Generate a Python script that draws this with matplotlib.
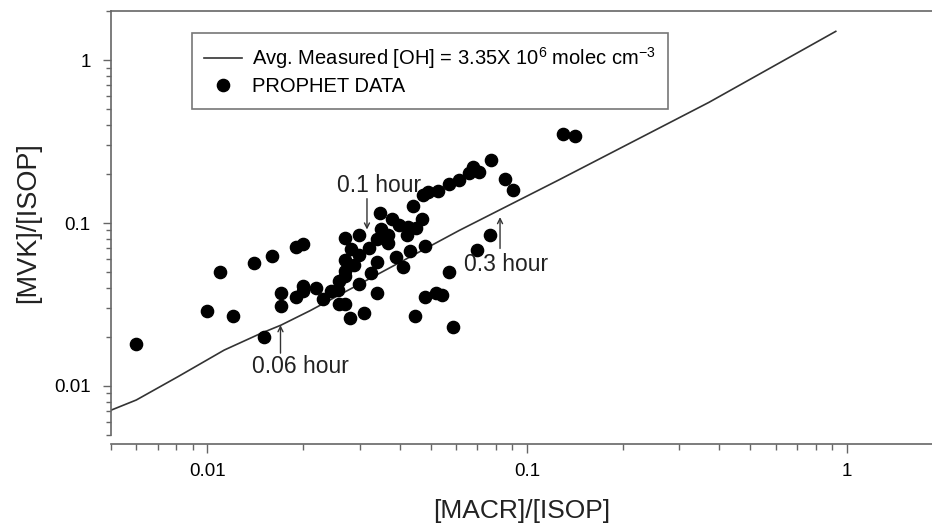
import matplotlib
matplotlib.use("Agg")
import matplotlib.pyplot as plt
from matplotlib import ticker

# PROPHET data
macr_isop = [0.0060, 0.0100, 0.0120, 0.0110, 0.0140, 0.0160, 0.0150, 0.0170, 0.0170, 0.0190,
             0.0200, 0.0190, 0.0200, 0.0199, 0.0219, 0.0230, 0.0244, 0.0256, 0.0259, 0.0269,
             0.0269, 0.0259, 0.0269, 0.0280, 0.0270, 0.0282, 0.0270, 0.0299, 0.0299, 0.0287,
             0.0299, 0.0310, 0.0320, 0.0326, 0.0339, 0.0339, 0.0339, 0.0350, 0.0348, 0.0367,
             0.0379, 0.0369, 0.0390, 0.0399, 0.0411, 0.0424, 0.0421, 0.0431, 0.0439, 0.0450,
             0.0448, 0.0470, 0.0479, 0.0480, 0.0474, 0.0491, 0.0526, 0.0520, 0.0543, 0.0569,
             0.0569, 0.0611, 0.0588, 0.0660, 0.0680, 0.0710, 0.0700, 0.0768, 0.0773, 0.0855,
             0.0906, 0.1300, 0.1410]
mvk_isop = [0.018, 0.029, 0.027, 0.050, 0.057, 0.063, 0.020, 0.037, 0.031, 0.071,
            0.074, 0.035, 0.041, 0.038, 0.040, 0.034, 0.038, 0.039, 0.044, 0.047,
            0.051, 0.032, 0.032, 0.026, 0.059, 0.069, 0.081, 0.085, 0.064, 0.055,
            0.042, 0.028, 0.0705, 0.049, 0.058, 0.037, 0.080, 0.092, 0.115, 0.084,
            0.106, 0.075, 0.062, 0.097, 0.054, 0.094, 0.084, 0.067, 0.128, 0.093,
            0.027, 0.106, 0.072, 0.035, 0.149, 0.156, 0.158, 0.037, 0.036, 0.050,
            0.174, 0.184, 0.023, 0.202, 0.220, 0.205, 0.068, 0.085, 0.242, 0.186,
            0.160, 0.351, 0.341]

# model curve for avg. measured [OH]
model_macr = [0.0050, 0.0060, 0.0081, 0.0113, 0.0147, 0.0170, 0.0210, 0.0614, 0.126, 0.371, 0.925]
model_mvk = [0.0071, 0.0082, 0.0114, 0.0166, 0.0210, 0.0236, 0.0290, 0.0900, 0.184, 0.55, 1.50]

# time markers: label, text anchor, arrow tail, arrow tip
marks = [
    ("0.1 hour", (0.0255, 0.170), (0.0316, 0.141), (0.0316, 0.0912)),
    ("0.06 hour", (0.01385, 0.0131), (0.01695, 0.0159), (0.01695, 0.0236)),
    ("0.3 hour", (0.0637, 0.0557), (0.0824, 0.0698), (0.0824, 0.1087)),
]

plt.rcParams["font.family"] = ["Liberation Sans", "DejaVu Sans"]
plt.rcParams["mathtext.fontset"] = "custom"
plt.rcParams["mathtext.rm"] = "Liberation Sans"
plt.rcParams["mathtext.it"] = "Liberation Sans"

fig = plt.figure(figsize=(9.32, 5.28), dpi=100)
ax = fig.add_axes([111 / 932, 93 / 528, 821 / 932, 424 / 528])
ax.set_xscale("log")
ax.set_yscale("log")
ax.set_xlim(0.005, 1.85)
ax.set_ylim(0.005, 2.0)

ax.plot(model_macr, model_mvk, color="#333333", lw=1.2,
        label="Avg. Measured [OH] = 3.35X 10$^{6}$ molec cm$^{-3}$")
ax.plot(macr_isop, mvk_isop, "o", color="black", ms=8.8, mec="black",
        label="PROPHET DATA")

for text, pos, tail, tip in marks:
    ax.annotate("", xy=tip, xytext=tail,
                arrowprops=dict(arrowstyle="->", color="#333333", lw=1.0,
                                mutation_scale=9, shrinkA=0, shrinkB=0))
    ax.text(pos[0], pos[1], text, fontsize=16.5, color="#222222",
            ha="left", va="center")

spine_col = "#666666"
ax.spines["right"].set_visible(False)
for side in ("left", "top", "bottom"):
    ax.spines[side].set_color(spine_col)
    ax.spines[side].set_linewidth(1.2)
ax.spines["bottom"].set_position(("outward", 6.5))

fmt = ticker.FuncFormatter(lambda v, _: f"{v:g}")
for axis in (ax.xaxis, ax.yaxis):
    axis.set_major_locator(ticker.LogLocator(base=10))
    axis.set_minor_locator(ticker.LogLocator(base=10, subs=range(2, 10)))
    axis.set_major_formatter(fmt)
    axis.set_minor_formatter(ticker.NullFormatter())

ax.tick_params(axis="x", which="major", length=6.5, width=1, color=spine_col,
               labelsize=13.5, pad=7.5)
ax.tick_params(axis="x", which="minor", length=4.3, width=1, color=spine_col)
ax.tick_params(axis="y", which="major", length=5.5, width=1, color=spine_col,
               labelsize=13.5, pad=9)
ax.tick_params(axis="y", which="minor", length=3.6, width=1, color=spine_col)

ax.set_xlabel("[MACR]/[ISOP]", fontsize=19, color="#222222")
ax.set_ylabel("[MVK]/[ISOP]", fontsize=19.5, color="#222222")
ax.xaxis.set_label_coords(0.5, -0.152)
ax.yaxis.set_label_coords(-0.085, 0.5)

leg = ax.legend(loc="upper left", bbox_to_anchor=(0.0987, 0.947), borderaxespad=0,
                fontsize=14.5, frameon=True, fancybox=False, framealpha=1,
                edgecolor="#777777", borderpad=0.6, handlelength=1.9,
                handletextpad=0.5, labelspacing=0.3)
leg.get_frame().set_linewidth(1.2)

fig.savefig("out.png", dpi=100)
